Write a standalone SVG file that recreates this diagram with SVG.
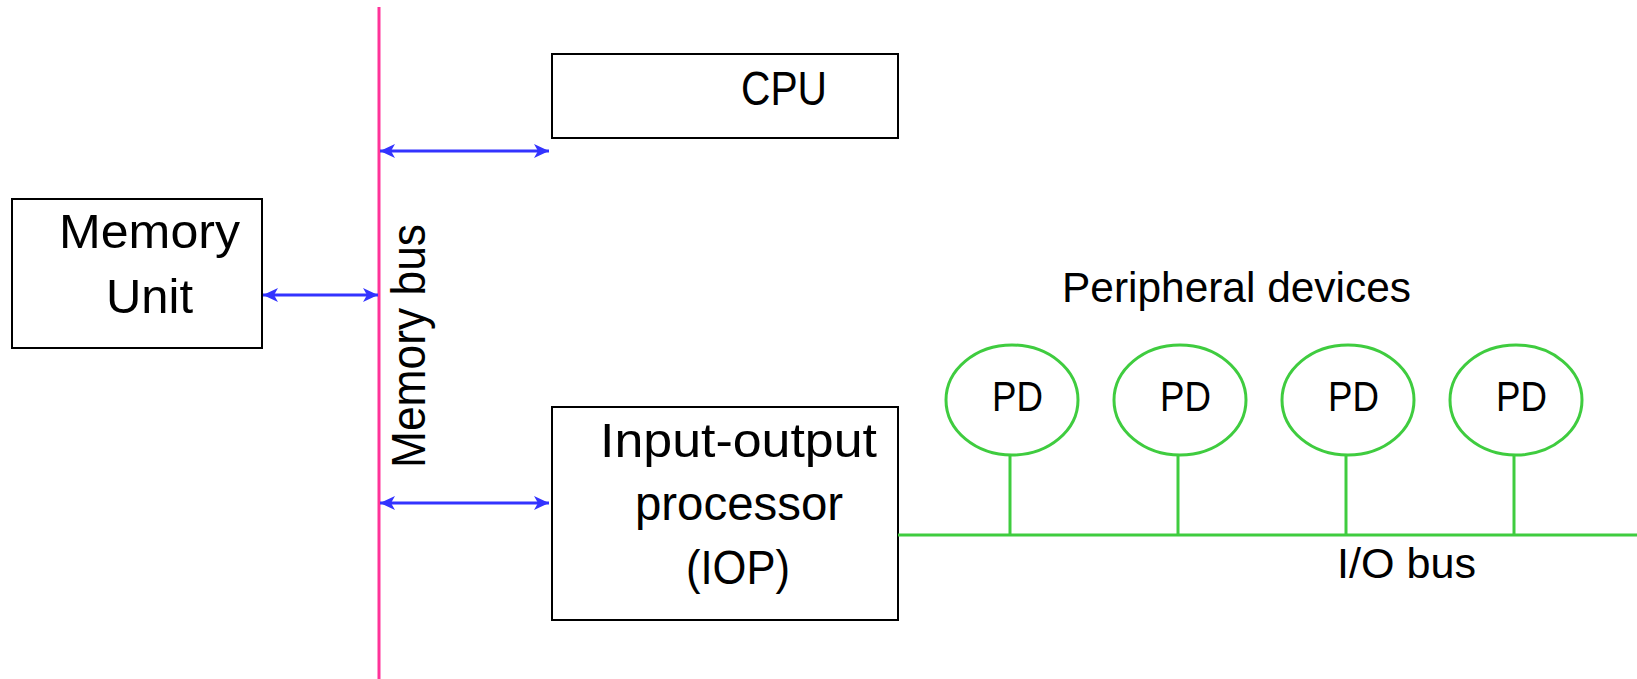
<svg xmlns="http://www.w3.org/2000/svg" width="1637" height="679" viewBox="0 0 1637 679">
<style>
.box{fill:#fff;stroke:#000;stroke-width:2}
.t{font-family:"Liberation Sans",Arial,sans-serif;fill:#000;font-size:48px}
.s{font-family:"Liberation Sans",Arial,sans-serif;fill:#000;font-size:42px}
.p{font-family:"Liberation Sans",Arial,sans-serif;fill:#000;font-size:43px}
.arr{stroke:#3333ff;stroke-width:3;fill:none;marker-start:url(#ah);marker-end:url(#ah)}
.pd{fill:#fff;stroke:#3fcc3f;stroke-width:3}
.g{stroke:#3fcc3f;stroke-width:3;fill:none}
</style>
<defs>
<marker id="ah" markerUnits="userSpaceOnUse" markerWidth="18" markerHeight="16" refX="15" refY="8" orient="auto-start-reverse" viewBox="0 0 18 16">
<path d="M0,1 L15,8 L0,15 L4,8 z" fill="#3333ff"/>
</marker>
</defs>
<rect width="1637" height="679" fill="#fff"/>
<g id="memory-bus">
<line x1="379" y1="7" x2="379" y2="679" stroke="#ff3399" stroke-width="3"/>
<text class="t" font-size="46" transform="translate(425,468) rotate(-90)" textLength="244" lengthAdjust="spacingAndGlyphs">Memory bus</text>
</g>
<g id="cpu">
<rect class="box" x="552" y="54" width="346" height="84"/>
<text class="t" x="741" y="105" textLength="86" lengthAdjust="spacingAndGlyphs">CPU</text>
</g>
<g id="memory-unit">
<rect class="box" x="12" y="199" width="250" height="149"/>
<text class="t" x="59" y="248" textLength="181" lengthAdjust="spacingAndGlyphs">Memory</text>
<text class="t" x="106" y="313" textLength="87" lengthAdjust="spacingAndGlyphs">Unit</text>
</g>
<g id="iop">
<rect class="box" x="552" y="407" width="346" height="213"/>
<text class="t" x="600" y="457" textLength="277" lengthAdjust="spacingAndGlyphs">Input-output</text>
<text class="t" x="635" y="520" textLength="208" lengthAdjust="spacingAndGlyphs">processor</text>
<text class="t" x="686" y="584" textLength="104" lengthAdjust="spacingAndGlyphs">(IOP)</text>
</g>
<g id="io-bus">
<line class="g" x1="898" y1="535" x2="1637" y2="535"/>
<text class="s" x="1337" y="578" textLength="139" lengthAdjust="spacingAndGlyphs">I/O bus</text>
</g>
<text id="peripheral-label" class="s" x="1062" y="302" textLength="349" lengthAdjust="spacingAndGlyphs">Peripheral devices</text>
<g id="pd1">
<ellipse class="pd" cx="1012" cy="400" rx="66" ry="55"/>
<text class="p" x="992" y="411" textLength="51" lengthAdjust="spacingAndGlyphs">PD</text>
</g>
<g id="pd2">
<ellipse class="pd" cx="1180" cy="400" rx="66" ry="55"/>
<text class="p" x="1160" y="411" textLength="51" lengthAdjust="spacingAndGlyphs">PD</text>
</g>
<g id="pd3">
<ellipse class="pd" cx="1348" cy="400" rx="66" ry="55"/>
<text class="p" x="1328" y="411" textLength="51" lengthAdjust="spacingAndGlyphs">PD</text>
</g>
<g id="pd4">
<ellipse class="pd" cx="1516" cy="400" rx="66" ry="55"/>
<text class="p" x="1496" y="411" textLength="51" lengthAdjust="spacingAndGlyphs">PD</text>
</g>
<g id="connectors">
<line class="arr" x1="380" y1="151" x2="549" y2="151"/>
<line class="arr" x1="263" y1="295" x2="378" y2="295"/>
<line class="arr" x1="380" y1="503" x2="549" y2="503"/>
<line class="g" x1="1010" y1="455" x2="1010" y2="535"/>
<line class="g" x1="1178" y1="455" x2="1178" y2="535"/>
<line class="g" x1="1346" y1="455" x2="1346" y2="535"/>
<line class="g" x1="1514" y1="455" x2="1514" y2="535"/>
</g>
</svg>
